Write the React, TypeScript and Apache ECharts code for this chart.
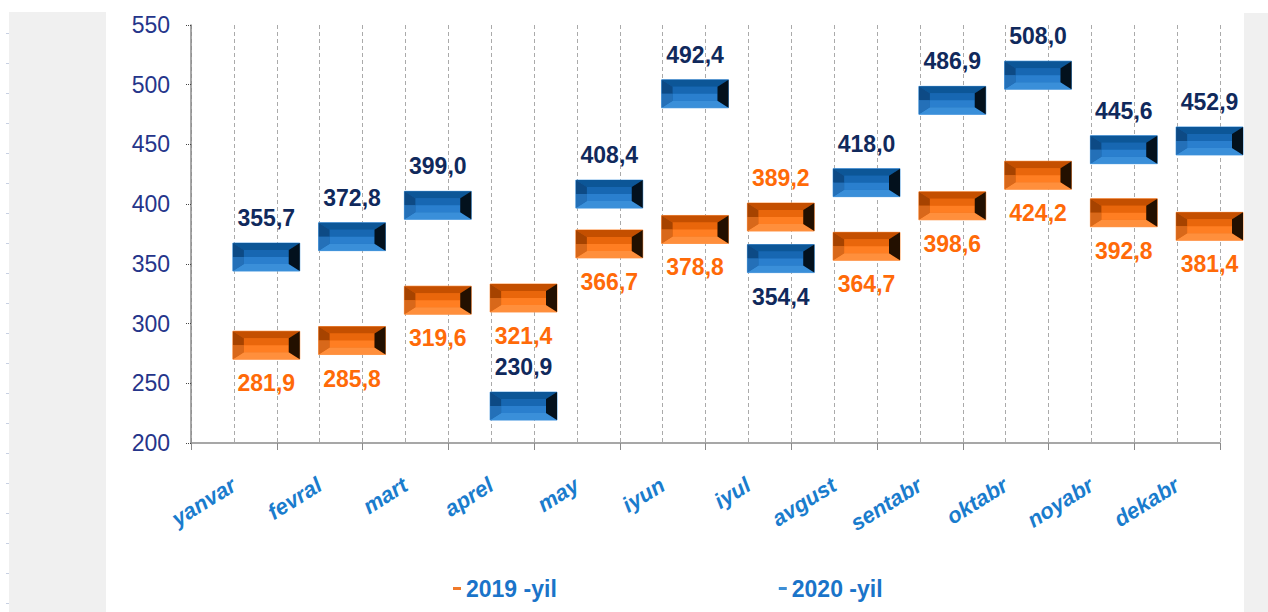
import React, { useEffect, useRef } from "react";
import * as echarts from "echarts";

const months = ["yanvar", "fevral", "mart", "aprel", "may", "iyun", "iyul", "avgust", "sentabr", "oktabr", "noyabr", "dekabr"];
const values2019 = [281.9, 285.8, 319.6, 321.4, 366.7, 378.8, 389.2, 364.7, 398.6, 424.2, 392.8, 381.4];
const values2020 = [355.7, 372.8, 399.0, 230.9, 408.4, 492.4, 354.4, 418.0, 486.9, 508.0, 445.6, 452.9];
const labelPos2019 = ["bottom", "bottom", "bottom", "bottom", "bottom", "bottom", "top", "bottom", "bottom", "bottom", "bottom", "bottom"];
const labelPos2020 = ["top", "top", "top", "top", "top", "top", "bottom", "top", "top", "top", "top", "top"];
const yTicks = { min: 200, max: 550, interval: 50 };
const seriesNames = ["2019 -yil", "2020 -yil"];

const FONT = '"Liberation Sans", Arial, Helvetica, sans-serif';

const bluePal = {
  top: "#0c5697",
  cTop: "#1767b2",
  cBot: "#2a7fce",
  bottom: "#3a8fd9",
  leftTop: "#0d4a85",
  leftBot: "#2470b8",
  right: "#03111d",
  stroke: "#5aa2e2",
  text: "#10295c",
};
const orangePal = {
  top: "#c44f00",
  cTop: "#e9660b",
  cBot: "#ff7e22",
  bottom: "#ff8f3c",
  leftTop: "#a64300",
  leftBot: "#d8681a",
  right: "#231000",
  stroke: "#ff9c55",
  text: "#ff6a08",
};

function makeRender(pal: any, positions: string[]) {
  return (params: any, api: any) => {
    const i = api.value(0);
    const v = api.value(1);
    const [cx, cy] = api.coord([i, v]);
    const band = api.size([1, 0])[0];
    const w = band * 0.78;
    const h = 28;
    const x0 = cx - 1;
    const x1 = x0 + w;
    const y0 = cy - h / 2;
    const y1 = cy + h / 2;
    const bx = 11;
    const by = 7;
    const ym = cy;
    const poly = (pts: number[][], fill: string) => ({
      type: "polygon",
      shape: { points: pts },
      style: { fill },
    });
    const above = positions[params.dataIndex] === "top";
    const ty = above ? cy - 39 : cy + 38;
    const txt = v.toFixed(1).replace(".", ",");
    return {
      type: "group",
      children: [
        {
          type: "rect",
          shape: { x: x0, y: y0, width: w, height: h },
          style: { fill: pal.cTop, stroke: pal.stroke, lineWidth: 1 },
        },
        poly([[x0, y0], [x1, y0], [x1 - bx, y0 + by], [x0 + bx, y0 + by]], pal.top),
        poly([[x0 + bx, y0 + by], [x1 - bx, y0 + by], [x1 - bx, ym], [x0 + bx, ym]], pal.cTop),
        poly([[x0 + bx, ym], [x1 - bx, ym], [x1 - bx, y1 - by], [x0 + bx, y1 - by]], pal.cBot),
        poly([[x0, y1], [x1, y1], [x1 - bx, y1 - by], [x0 + bx, y1 - by]], pal.bottom),
        poly([[x0, y0], [x0 + bx, y0 + by], [x0 + bx, ym], [x0, ym]], pal.leftTop),
        poly([[x0, ym], [x0 + bx, ym], [x0 + bx, y1 - by], [x0, y1]], pal.leftBot),
        poly([[x1, y0], [x1 - bx, y0 + by], [x1 - bx, y1 - by], [x1, y1]], pal.right),
        {
          type: "text",
          x: (x0 + x1) / 2,
          y: ty,
          style: {
            text: txt,
            align: "center",
            verticalAlign: "middle",
            fontSize: 23,
            fontWeight: "bold",
            fontFamily: FONT,
            fill: pal.text,
          },
        },
      ],
    };
  };
}

export default function App() {
  const ref = useRef<HTMLDivElement>(null);
  useEffect(() => {
    if (!ref.current) return;
    const chart = echarts.init(ref.current, undefined, { renderer: "svg" });
    const marks: any[] = [];
    for (let y = 33; y < 612; y += 30) {
      marks.push({
        type: "rect",
        shape: { x: 6, y, width: 3, height: 1 },
        style: { fill: "#c8d0e2" },
        silent: true,
      });
    }
    chart.setOption({
      animation: false,
      backgroundColor: "#ffffff",
      grid: { left: 191, right: 48, top: 25, bottom: 169 },
      graphic: [
        { type: "rect", shape: { x: 9, y: 12, width: 97, height: 600 }, style: { fill: "#f0f0f0" }, silent: true, z: -10 },
        { type: "rect", shape: { x: 1244, y: 13, width: 24, height: 599 }, style: { fill: "#f0f0f0" }, silent: true, z: 100 },
        ...marks,
      ],
      legend: {
        left: 448,
        top: 572,
        icon: "rect",
        itemWidth: 8,
        itemHeight: 3,
        itemGap: 222,
        textStyle: { color: "#1a74c9", fontSize: 23, fontWeight: "bold", fontFamily: FONT, padding: [2, 0, 0, 0] },
        data: [
          { name: seriesNames[0], itemStyle: { color: "#f07a2a" } },
          { name: seriesNames[1], itemStyle: { color: "#3d8fd6" } },
        ],
      },
      xAxis: [
        {
          type: "category",
          data: months,
          boundaryGap: true,
          axisLine: { lineStyle: { color: "#8a8a8a", width: 1.5 } },
          axisTick: { show: true, length: 7, lineStyle: { color: "#8a8a8a" } },
          axisLabel: {
            rotate: 32,
            margin: 40,
            color: "#1a7ccd",
            fontSize: 22,
            fontWeight: "bold",
            fontStyle: "italic",
            fontFamily: FONT,
            interval: 0,
          },
          splitLine: { show: false },
        },
        {
          type: "value",
          min: 0,
          max: 24,
          interval: 1,
          position: "top",
          axisLine: { show: false },
          axisTick: { show: false },
          axisLabel: { show: false },
          splitLine: { show: true, lineStyle: { color: "#aaaaaa", type: [4, 3], width: 1 } },
        },
      ],
      yAxis: {
        type: "value",
        min: yTicks.min,
        max: yTicks.max,
        interval: yTicks.interval,
        axisLine: { show: true, lineStyle: { color: "#8a8a8a", width: 1.5 } },
        axisTick: { show: true, length: 5, lineStyle: { color: "#444", type: "dotted" } },
        axisLabel: { color: "#25358a", fontSize: 23, fontFamily: FONT, margin: 21 },
        splitLine: { show: false },
      },
      series: [
        {
          name: seriesNames[0],
          type: "custom",
          xAxisIndex: 0,
          itemStyle: { color: "#f07a2a" },
          renderItem: makeRender(orangePal, labelPos2019),
          data: values2019.map((v, i) => [i, v]),
          z: 5,
        },
        {
          name: seriesNames[1],
          type: "custom",
          xAxisIndex: 0,
          itemStyle: { color: "#3d8fd6" },
          renderItem: makeRender(bluePal, labelPos2020),
          data: values2020.map((v, i) => [i, v]),
          z: 5,
        },
      ],
    });
    return () => chart.dispose();
  }, []);
  return (
    <div
      ref={ref}
      style={{ position: "absolute", left: 0, top: 0, width: 1268, height: 612, background: "#fff" }}
    />
  );
}
